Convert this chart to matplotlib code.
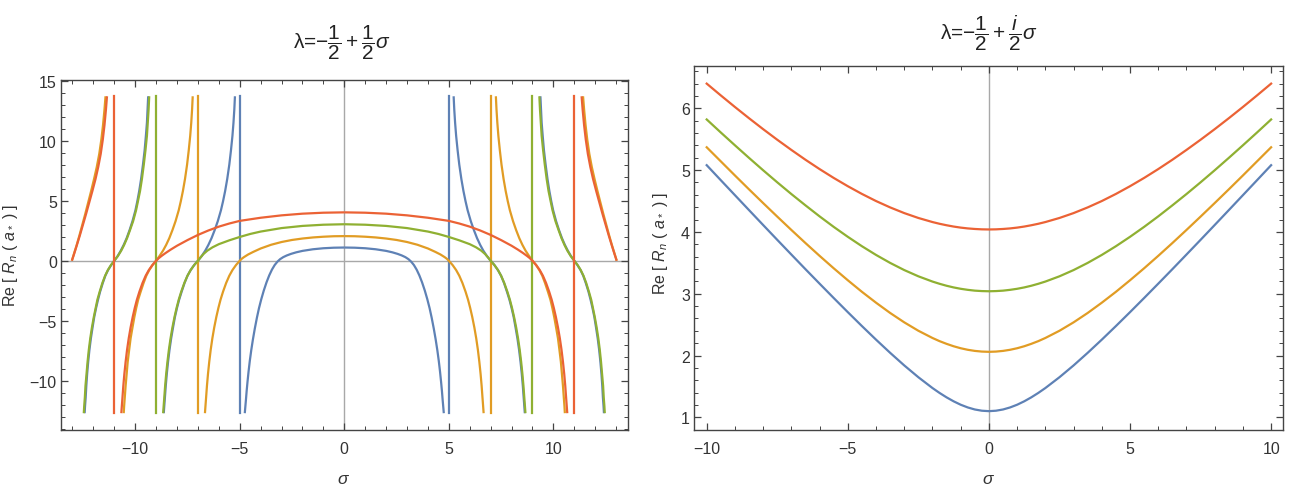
import numpy as np
import matplotlib.pyplot as plt
from matplotlib.ticker import MultipleLocator

plt.rcParams['font.family'] = 'Liberation Sans'
plt.rcParams['mathtext.fontset'] = 'custom'
plt.rcParams['mathtext.rm'] = 'Liberation Sans'
plt.rcParams['mathtext.it'] = 'Liberation Sans:italic'
plt.rcParams['mathtext.bf'] = 'Liberation Sans:bold'

# Mathematica default palette: n = 1..4
colors = ['#5E81B5', '#E19C24', '#8FB032', '#EB6235']

# ---- left panel, lambda = -1/2 + sigma/2
# values read for sigma >= 0; the picture is symmetric, the other half is mirrored
tail_v = [-0.36, -0.78, -1.25, -1.85, -2.58, -3.25, -3.92, -4.68, -5.55, -6.46,
          -7.42, -8.43, -9.44, -10.44, -11.4, -12.1, -12.7]

blue_dome_s = [0, 0.5, 1, 1.5, 2, 2.3, 2.55, 2.75, 2.92, 3.07, 3.2, 3.33, 3.46,
               3.59, 3.72, 3.85, 3.97, 4.08, 4.18, 4.28, 4.37, 4.45, 4.52,
               4.58, 4.63, 4.67, 4.705, 4.735, 4.76]
blue_dome_v = [1.10, 1.085, 1.04, 0.955, 0.82, 0.70, 0.57, 0.44, 0.30, 0.13,
               -0.08, -0.36, -0.74, -1.22, -1.8, -2.48, -3.2, -3.95, -4.75,
               -5.65, -6.55, -7.45, -8.35, -9.25, -10.1, -10.85, -11.6,
               -12.2, -12.7]

orange_dome_s = [0, 0.5, 1, 1.5, 2, 2.5, 3, 3.5, 4, 4.35, 4.6, 4.8, 4.9, 5.0,
                 5.18, 5.35, 5.5, 5.65, 5.8, 5.92, 6.02, 6.12, 6.22, 6.31,
                 6.39, 6.46, 6.52, 6.57, 6.61, 6.64, 6.665]
orange_dome_v = [2.05, 2.04, 2.0, 1.94, 1.85, 1.73, 1.56, 1.33, 1.02, 0.74,
                 0.52, 0.3, 0.17, 0.0] + tail_v

green_dome_s = [0, 1, 2, 3, 4, 4.5, 5, 5.5, 6, 6.3, 6.55, 6.74, 6.87, 7.0,
                7.18, 7.35, 7.5, 7.65, 7.8, 7.92, 8.02, 8.12, 8.22, 8.31,
                8.39, 8.46, 8.52, 8.57, 8.61, 8.64, 8.665]
green_dome_v = [3.04, 3.0, 2.9, 2.72, 2.43, 2.23, 1.98, 1.7, 1.38, 1.12,
                0.84, 0.55, 0.29, 0.0] + tail_v

red_dome_s = [0, 1, 2, 3, 4, 5, 5.5, 6, 6.5, 7, 7.5, 8, 8.3, 8.55, 8.74, 8.87, 9.0,
              9.18, 9.35, 9.5, 9.65, 9.8, 9.92, 10.02, 10.12, 10.22, 10.31,
              10.39, 10.46, 10.52, 10.57, 10.61, 10.64, 10.665]
red_dome_v = [4.03, 4.0, 3.92, 3.78, 3.58, 3.32, 3.1, 2.84, 2.52, 2.15, 1.72,
              1.25, 0.93, 0.64, 0.4, 0.22, 0.0] + tail_v

# falling branches between two poles
fall_v = [13.7, 12.6, 11.5, 10.4, 9.2, 8.0, 6.8, 5.8, 4.95, 4.2, 3.3, 2.55,
          1.88, 1.32, 0.84, 0.39, 0.0] + tail_v
blue_a_s = [5.23, 5.26, 5.3, 5.35, 5.42, 5.5, 5.6, 5.7, 5.8, 5.9, 6.05, 6.2,
            6.35, 6.5, 6.65, 6.82, 7.0,
            7.18, 7.35, 7.5, 7.64, 7.78, 7.9, 8.0, 8.1, 8.19, 8.28, 8.36,
            8.43, 8.49, 8.54, 8.58, 8.61, 8.635]
orange_a_s = [7.25, 7.28, 7.32, 7.37, 7.44, 7.52, 7.62, 7.72, 7.82, 7.92, 8.07,
              8.22, 8.37, 8.52, 8.67, 8.84, 9.0,
              9.17, 9.33, 9.47, 9.6, 9.74, 9.86, 9.95, 10.04, 10.13, 10.22,
              10.29, 10.36, 10.41, 10.46, 10.5, 10.53, 10.55]
green_b_s = [9.33, 9.36, 9.4, 9.44, 9.51, 9.59, 9.68, 9.77, 9.87, 9.96, 10.1,
             10.25, 10.39, 10.53, 10.67, 10.83, 11.0,
             11.16, 11.31, 11.44, 11.57, 11.7, 11.81, 11.89, 11.98, 12.07,
             12.15, 12.22, 12.28, 12.33, 12.38, 12.41, 12.44, 12.46]
blue_b_s = [9.38, 9.41, 9.44, 9.49, 9.55, 9.63, 9.72, 9.81, 9.9, 9.99, 10.13,
            10.27, 10.41, 10.55, 10.69, 10.84, 11.0,
            11.15, 11.3, 11.43, 11.55, 11.68, 11.78, 11.87, 11.96, 12.04,
            12.12, 12.19, 12.25, 12.3, 12.34, 12.37, 12.4, 12.42]

# outermost pieces, ending on the axis at the edge of the plotted range
end_v = [13.7, 12.6, 11.3, 10.1, 8.9, 7.8, 6.8, 5.8, 4.85, 3.9, 3.0, 2.1,
         1.25, 0.58, 0.0]
red_c_s = [11.35, 11.4, 11.47, 11.55, 11.65, 11.77, 11.9, 12.05, 12.2, 12.35,
           12.5, 12.65, 12.8, 12.92, 13.03]
orange_c_s = [11.42, 11.47, 11.54, 11.62, 11.72, 11.84, 11.97, 12.11, 12.25,
              12.39, 12.53, 12.67, 12.81, 12.93, 13.03]

pole_s = [5, 7, 9, 11]
pole_lo, pole_hi = -12.7, 13.7

# ---- right panel, lambda = -1/2 + i sigma/2 (sigma >= 0, mirrored)
sig_r = [0, 0.25, 0.5, 0.75, 1, 1.25, 1.5, 1.75, 2, 2.5, 3, 3.5, 4, 4.5, 5,
         5.5, 6, 6.5, 7, 7.5, 8, 8.5, 9, 9.5, 10]
blue_r = [1.10, 1.107, 1.127, 1.16, 1.204, 1.259, 1.323, 1.395, 1.474, 1.649,
          1.84, 2.044, 2.257, 2.477, 2.702, 2.931, 3.163, 3.397, 3.634,
          3.872, 4.112, 4.353, 4.595, 4.837, 5.08]
orange_r = [2.06, 2.064, 2.075, 2.093, 2.118, 2.150, 2.189, 2.233, 2.284,
            2.401, 2.537, 2.689, 2.855, 3.031, 3.218, 3.412, 3.613, 3.82,
            4.032, 4.248, 4.467, 4.689, 4.914, 5.142, 5.37]
green_r = [3.04, 3.043, 3.05, 3.063, 3.08, 3.102, 3.129, 3.161, 3.197, 3.282,
           3.383, 3.499, 3.628, 3.769, 3.921, 4.082, 4.252, 4.43, 4.613,
           4.803, 4.998, 5.198, 5.402, 5.609, 5.82]
red_r = [4.04, 4.042, 4.048, 4.057, 4.07, 4.087, 4.108, 4.132, 4.16, 4.226,
         4.305, 4.397, 4.50, 4.615, 4.74, 4.874, 5.017, 5.168, 5.327, 5.492,
         5.663, 5.84, 6.022, 6.209, 6.40]

W, H = 1291, 489
LW = 1.6
frame_c = '#444444'
zero_c = '#a8a8a8'


def both_sides(ax, s, v, c):
    s = np.asarray(s, dtype=float)
    v = np.asarray(v, dtype=float)
    ax.plot(s, v, color=c, lw=LW, solid_capstyle='butt', solid_joinstyle='round')
    ax.plot(-s, v, color=c, lw=LW, solid_capstyle='butt', solid_joinstyle='round')


def style(ax, xmaj, xmin, ymaj, ymin):
    for sp in ax.spines.values():
        sp.set_color(frame_c)
        sp.set_linewidth(1.0)
    ax.xaxis.set_major_locator(MultipleLocator(xmaj))
    ax.xaxis.set_minor_locator(MultipleLocator(xmin))
    ax.yaxis.set_major_locator(MultipleLocator(ymaj))
    ax.yaxis.set_minor_locator(MultipleLocator(ymin))
    ax.tick_params(which='both', direction='in', top=True, right=True,
                   color=frame_c, labelcolor='#333333', labelsize=11.5)
    ax.tick_params(which='major', length=5, width=0.9)
    ax.tick_params(which='minor', length=2.8, width=0.7)
    ax.tick_params(axis='x', which='major', pad=8)
    ax.tick_params(axis='y', which='major', pad=3)


fig = plt.figure(figsize=(W / 100, H / 100), dpi=100)

# left panel
ax1 = fig.add_axes([61 / W, (H - 431) / H, 567 / W, 350.3 / H])
ax1.axhline(0, color=zero_c, lw=1.0, zorder=1)
ax1.axvline(0, color=zero_c, lw=1.0, zorder=1)

domes = [(blue_dome_s, blue_dome_v), (orange_dome_s, orange_dome_v),
         (green_dome_s, green_dome_v), (red_dome_s, red_dome_v)]
branches = [
    [(blue_a_s, fall_v), (blue_b_s, fall_v)],
    [(orange_a_s, fall_v), (orange_c_s, end_v)],
    [(green_b_s, fall_v)],
    [(red_c_s, end_v)],
]
for k in range(4):
    c = colors[k]
    ds, dv = domes[k]
    both_sides(ax1, ds, dv, c)
    for x0 in (pole_s[k], -pole_s[k]):
        ax1.plot([x0, x0], [pole_lo, pole_hi], color=c, lw=LW)
    for bs, bv in branches[k]:
        both_sides(ax1, bs, bv, c)

ax1.set_xlim(-13.55, 13.57)
ax1.set_ylim(-14.1, 15.08)
style(ax1, 5, 1, 5, 1)

# right panel
ax2 = fig.add_axes([694 / W, (H - 431) / H, 588.7 / W, 364.3 / H])
ax2.axvline(0, color=zero_c, lw=1.0, zorder=1)
for k, vals in enumerate([blue_r, orange_r, green_r, red_r]):
    s = np.asarray(sig_r, dtype=float)
    v = np.asarray(vals, dtype=float)
    ax2.plot(np.concatenate([-s[::-1], s[1:]]), np.concatenate([v[::-1], v[1:]]),
             color=colors[k], lw=LW, solid_joinstyle='round')
ax2.set_xlim(-10.45, 10.41)
ax2.set_ylim(0.795, 6.69)
style(ax2, 5, 1, 1, 0.2)

# titles and axis labels
fig.text(341.5 / W, 1 - 43 / H, r'λ=$-\dfrac{1}{2}+\dfrac{1}{2}\sigma$',
         ha='center', va='center', fontsize=15, color='#222222')
fig.text(989 / W, 1 - 33 / H, r'λ=$-\dfrac{1}{2}+\dfrac{i}{2}\sigma$',
         ha='center', va='center', fontsize=15, color='#222222')

ylab = r'Re [ $R_n$ ( $a_*$ ) ]'
fig.text(11 / W, 1 - 255 / H, ylab, rotation=90, ha='center', va='center',
         fontsize=11.5, color='#333333')
fig.text(660 / W, 1 - 243 / H, ylab, rotation=90, ha='center', va='center',
         fontsize=11.5, color='#333333')
fig.text(344 / W, 1 - 480 / H, r'$\sigma$', ha='center', va='center',
         fontsize=12.5, color='#333333')
fig.text(989 / W, 1 - 480 / H, r'$\sigma$', ha='center', va='center',
         fontsize=12.5, color='#333333')

fig.savefig('out.png', dpi=100)
